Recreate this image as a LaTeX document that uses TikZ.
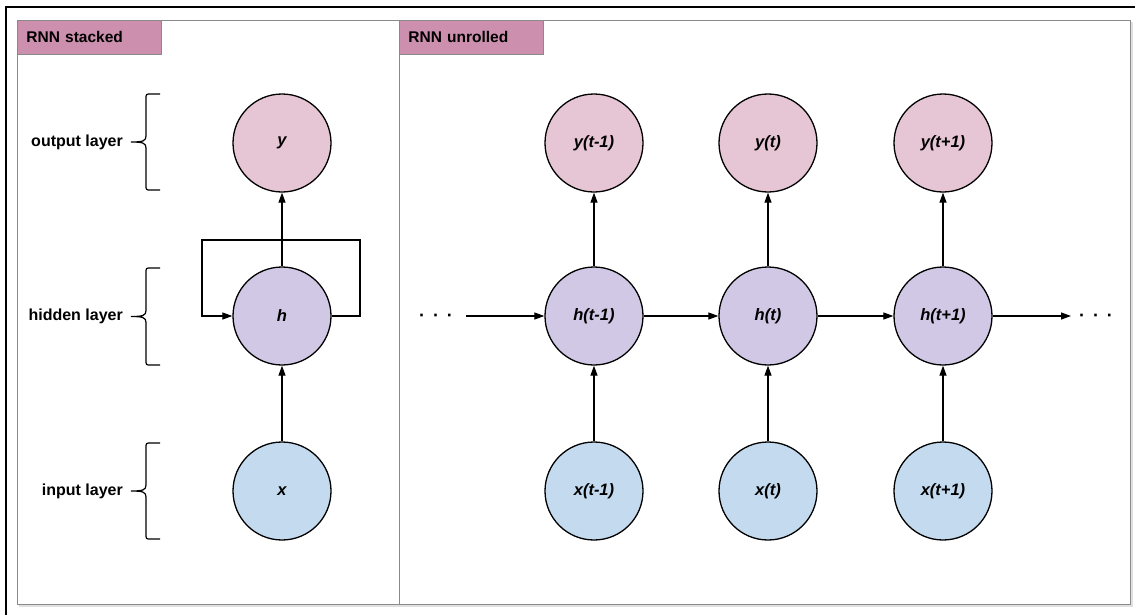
\documentclass[tikz,border=0pt]{standalone}
\usepackage{fontspec}
\setmainfont{Liberation Sans}
\usetikzlibrary{arrows.meta}
\definecolor{titlefill}{HTML}{CC8FAD}
\definecolor{yfill}{HTML}{E6C6D4}
\definecolor{hfill}{HTML}{D1C8E5}
\definecolor{xfill}{HTML}{C4DAEF}
\definecolor{panelgray}{HTML}{8A8A8A}
\tikzset{
  neuron/.style={circle, draw=black, line width=1.3pt, minimum size=98pt, inner sep=0pt, font=\fontsize{16.5}{18}\selectfont\bfseries\itshape},
  ynode/.style={neuron, fill=yfill},
  hnode/.style={neuron, fill=hfill},
  xnode/.style={neuron, fill=xfill},
  arr/.style={line width=1.2pt, -{Triangle[length=10pt,width=7pt]}},
  plain/.style={line width=1.2pt},
  titlebox/.style={draw=panelgray, line width=0.8pt, fill=titlefill, anchor=north west, text width=126pt, inner xsep=9pt, inner ysep=0pt, minimum height=34pt, align=left, font=\fontsize{15.5}{17}\selectfont\bfseries},
  layerlabel/.style={anchor=east, inner sep=0pt, font=\fontsize{16}{18}\selectfont\bfseries},
  bracepath/.style={line width=1.2pt},
  dotsnode/.style={inner sep=0pt, anchor=base, font=\fontsize{18}{20}\selectfont\bfseries}
}
\begin{document}
\begin{tikzpicture}[x=1pt, y=-1pt]
\useasboundingbox (0,0) rectangle (1135,614);
% outer frame
\draw[line width=2.4pt] (6,616) -- (6,7) -- (1137,7);
% panel shadow and panel
\fill[black!12] (19,22) rectangle (1133,607);
\draw[draw=panelgray, line width=1pt, fill=white] (17,20) rectangle (1130,604);
\draw[draw=panelgray, line width=1pt] (399,20) -- (399,604);
% titles
\node[titlebox] (t1) at (17,20) {RNN stacked};
\node[titlebox] (t2) at (399,20) {RNN unrolled};

% left panel nodes
\node[ynode] (y) at (282,143) {y};
\node[hnode] (h) at (282,316) {h};
\node[xnode] (x) at (282,491) {x};
\draw[arr] (x) -- (h);
\draw[arr] (h) -- (y);
\coordinate (lr) at (360,240);
\coordinate (ll) at (202,240);
\draw[arr] (h.east) -| (lr) -- (ll) |- (h.west);

% braces and labels
\foreach \ya/\yb/\nm/\txt in {94/190/lo/output layer, 268/365/lh/hidden layer, 443/539/li/input layer}{
  \pgfmathsetmacro{\ym}{(\ya+\yb)/2}
  \draw[bracepath] (160,\ya) -- (151,\ya) .. controls (146,\ya) .. (146,\ya+5) -- (146,\ym-6)
     .. controls (146,\ym-1) and (143,\ym) .. (131,\ym)
     .. controls (143,\ym) and (146,\ym+1) .. (146,\ym+6) -- (146,\yb-5)
     .. controls (146,\yb) .. (151,\yb) -- (160,\yb);
  \node[layerlabel] (\nm) at (123,\ym) {\txt};
}

% right panel nodes
\node[ynode] (y1) at (594,143) {y(t-1)};
\node[ynode] (y2) at (768,143) {y(t)};
\node[ynode] (y3) at (943,143) {y(t+1)};
\node[hnode] (h1) at (594,316) {h(t-1)};
\node[hnode] (h2) at (768,316) {h(t)};
\node[hnode] (h3) at (943,316) {h(t+1)};
\node[xnode] (x1) at (594,491) {x(t-1)};
\node[xnode] (x2) at (768,491) {x(t)};
\node[xnode] (x3) at (943,491) {x(t+1)};
\foreach \i in {1,2,3}{
  \draw[arr] (x\i) -- (h\i);
  \draw[arr] (h\i) -- (y\i);
}
\draw[arr] (h1) -- (h2);
\draw[arr] (h2) -- (h3);
\node[dotsnode] (dl) at (436,321) {·\hspace{8pt}·\hspace{8pt}·};
\node[dotsnode] (dr) at (1096,321) {·\hspace{8pt}·\hspace{8pt}·};
\coordinate (inL) at (466,316);
\coordinate (outR) at (1071,316);
\draw[arr] (inL) -- (h1.west);
\draw[arr] (h3.east) -- (outR);
\end{tikzpicture}
\end{document}
